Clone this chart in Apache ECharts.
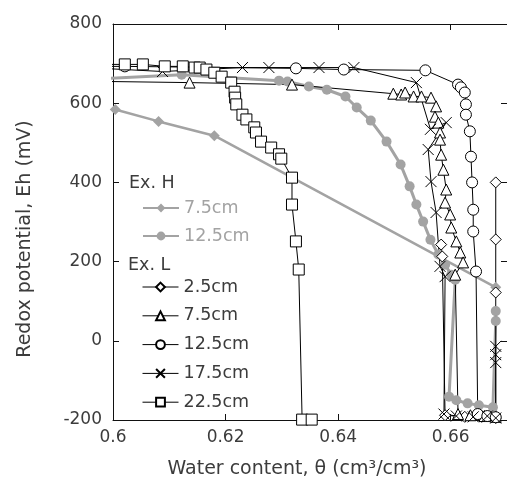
<!DOCTYPE html>
<html>
<head>
<meta charset="utf-8">
<script src="https://cdn.jsdelivr.net/npm/echarts@6/dist/echarts.min.js"></script>
<style>
  html, body { margin: 0; padding: 0; background: #fff; }
  #chart { width: 507px; height: 491px; }
</style>
</head>
<body>
<div id="chart"></div>
<script>
// Ex. H (grey)
var h75 = [[0.6004, 584], [0.6081, 554], [0.618, 518], [0.668, 135]];
var h125 = [[0.598, 662], [0.6122, 672], [0.6295, 657], [0.631, 655], [0.6348, 642], [0.638, 634],
  [0.6413, 617], [0.6433, 589], [0.6458, 556], [0.6486, 503], [0.6511, 445], [0.6527, 390],
  [0.6539, 344], [0.6551, 301], [0.6564, 255], [0.6578, 218], [0.659, 192], [0.6601, 167],
  [0.6608, 154], [0.6597, -141], [0.661, -150], [0.663, -158], [0.665, -163], [0.6675, -168],
  [0.668, 50], [0.668, 75]];

// Ex. L (black)
var l25 = [[0.6583, 243], [0.6585, 213], [0.659, -188], [0.6625, -192], [0.6655, -192],
  [0.668, -195], [0.668, 122], [0.668, 256], [0.668, 400]];
var l75 = [[0.598, 655], [0.6136, 652], [0.6318, 647], [0.6498, 624], [0.6512, 622], [0.6519, 627],
  [0.6534, 617], [0.6548, 617], [0.6565, 614], [0.6574, 592], [0.6572, 566], [0.6578, 551],
  [0.6581, 526], [0.6581, 508], [0.6583, 470], [0.6587, 432], [0.6592, 382], [0.659, 349],
  [0.6599, 319], [0.6601, 286], [0.661, 251], [0.6617, 223], [0.6622, 198], [0.6608, 167],
  [0.6613, -185], [0.6635, -188], [0.666, -190], [0.668, -192]];
var l125 = [[0.598, 693], [0.6021, 693], [0.6325, 688], [0.641, 685], [0.6555, 683], [0.6613, 647],
  [0.6618, 640], [0.6625, 627], [0.6627, 597], [0.6627, 571], [0.6634, 529], [0.6636, 465],
  [0.6638, 400], [0.664, 331], [0.664, 276], [0.6645, 175], [0.6648, -185], [0.6665, -190],
  [0.668, -193]];
var l175 = [[0.598, 688], [0.6088, 680], [0.623, 690], [0.6277, 690], [0.6366, 690], [0.6428, 690],
  [0.6539, 652], [0.6564, 534], [0.6592, 551], [0.656, 483], [0.6565, 402], [0.6574, 324],
  [0.6581, 188], [0.659, 162], [0.6588, -185], [0.661, -190], [0.664, -192], [0.6665, -190],
  [0.668, -195], [0.668, -55], [0.668, -35], [0.668, -14]];
var l225 = [[0.598, 698], [0.6021, 698], [0.6053, 698], [0.6092, 693], [0.6124, 693], [0.6145, 690],
  [0.6154, 690], [0.6166, 685], [0.618, 677], [0.6193, 667], [0.621, 652], [0.6216, 629],
  [0.6217, 614], [0.6219, 597], [0.623, 571], [0.6237, 559], [0.6251, 539], [0.6254, 526],
  [0.6263, 503], [0.6281, 488], [0.6295, 471], [0.6299, 460], [0.6318, 412], [0.6318, 344],
  [0.6325, 251], [0.633, 180], [0.6336, -199], [0.6353, -199]];

var xTicks = [0.6, 0.67, 0.02];
var yTicks = [-200, 800, 200];

var FONT = 'DejaVu Sans';
var TXT = '#3c3c3c';
var GREY = '#a3a3a3';
var CROSS = 'path://M0,0L10,10M0,10L10,0';

function blackSeries(name, data, symbol) {
  return {
    name: name, type: 'line', data: data,
    symbol: symbol, symbolSize: 11,
    lineStyle: { color: '#000', width: 1 },
    itemStyle: { color: symbol === CROSS ? 'none' : '#fff', borderColor: '#000', borderWidth: 1 },
    emphasis: { disabled: true },
    animation: false
  };
}

function greySeries(name, data, symbol, size, width) {
  return {
    name: name, type: 'line', data: data,
    symbol: symbol, symbolSize: size,
    lineStyle: { color: GREY, width: width },
    itemStyle: { color: GREY, borderColor: GREY, borderWidth: 0 },
    emphasis: { disabled: true },
    animation: false
  };
}

var axisLine = { show: true, onZero: false, lineStyle: { color: '#111', width: 1 } };
var axisTick = { show: true, inside: true, length: 6, lineStyle: { color: '#111' } };

var chart = echarts.init(document.getElementById('chart'));
chart.setOption({
  backgroundColor: '#fff',
  animation: false,
  grid: { left: 113, top: 24, width: 396, height: 396 },
  xAxis: [{
    type: 'value', min: xTicks[0], max: xTicks[1], interval: xTicks[2], position: 'bottom',
    axisLine: axisLine, axisTick: axisTick, splitLine: { show: false },
    axisLabel: { showMaxLabel: false, color: TXT, fontFamily: FONT, fontSize: 17, margin: 9 },
    name: 'Water content, θ (cm³/cm³)', nameLocation: 'middle', nameGap: 40,
    nameTextStyle: { color: TXT, fontFamily: FONT, fontSize: 19, padding: [0, 26, 0, 0] }
  }, {
    type: 'value', min: xTicks[0], max: xTicks[1], interval: xTicks[2], position: 'top',
    axisLine: axisLine, axisTick: axisTick, splitLine: { show: false },
    axisLabel: { show: false }
  }],
  yAxis: [{
    type: 'value', min: yTicks[0], max: yTicks[1], interval: yTicks[2], position: 'left',
    axisLine: axisLine, axisTick: axisTick, splitLine: { show: false },
    axisLabel: { color: TXT, fontFamily: FONT, fontSize: 17, margin: 11 },
    name: 'Redox potential, Eh (mV)', nameLocation: 'middle', nameGap: 78,
    nameTextStyle: { color: TXT, fontFamily: FONT, fontSize: 19, padding: [0, 34, 0, 0] }
  }, {
    type: 'value', min: yTicks[0], max: yTicks[1], interval: yTicks[2], position: 'right',
    axisLine: axisLine, axisTick: axisTick, splitLine: { show: false },
    axisLabel: { show: false }
  }],
  legend: [{
    data: ['H 7.5cm', 'H 12.5cm'],
    orient: 'vertical', left: 142, top: 199, itemWidth: 36, itemHeight: 11, itemGap: 10,
    padding: 0, selectedMode: false,
    lineStyle: { width: 2 },
    formatter: function (n) { return n.slice(2); },
    textStyle: { color: GREY, fontFamily: FONT, fontSize: 17.5 }
  }, {
    data: ['L 2.5cm', 'L 7.5cm', 'L 12.5cm', 'L 17.5cm', 'L 22.5cm'],
    orient: 'vertical', left: 142, top: 278, itemWidth: 36, itemHeight: 11, itemGap: 10.8,
    padding: 0, selectedMode: false,
    lineStyle: { width: 1 },
    formatter: function (n) { return n.slice(2); },
    textStyle: { color: TXT, fontFamily: FONT, fontSize: 17.5 }
  }],
  graphic: [
    { type: 'text', left: 129, top: 174, style: { text: 'Ex. H', fill: TXT, font: '17.5px "DejaVu Sans"' } },
    { type: 'text', left: 128, top: 256, style: { text: 'Ex. L', fill: TXT, font: '17.5px "DejaVu Sans"' } }
  ],
  series: [
    greySeries('H 7.5cm', h75, 'diamond', 11, 2.5),
    greySeries('H 12.5cm', h125, 'circle', 10, 3),
    blackSeries('L 2.5cm', l25, 'diamond'),
    blackSeries('L 7.5cm', l75, 'triangle'),
    blackSeries('L 12.5cm', l125, 'circle'),
    blackSeries('L 17.5cm', l175, CROSS),
    blackSeries('L 22.5cm', l225, 'rect')
  ]
});
</script>
</body>
</html>
